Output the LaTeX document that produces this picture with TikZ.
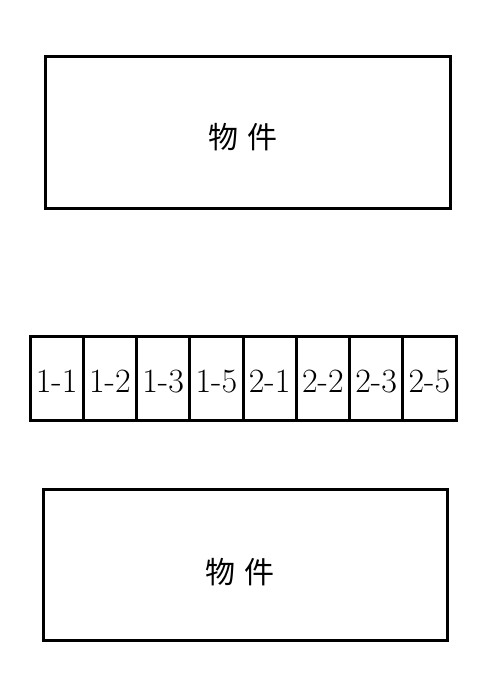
\documentclass[tikz,border=0pt]{standalone}
\usepackage{fontspec}
\newfontfamily\cjk{Noto Sans CJK JP}
\begin{document}
\begin{tikzpicture}[x=1bp,y=-1bp,
  bigbox/.style={draw=black,line width=3bp,rectangle,inner sep=0pt},
  cell/.style={draw=black,line width=3bp,rectangle,inner sep=0pt,
    minimum width=53.25bp,minimum height=84bp,
    font=\fontsize{34bp}{36bp}\selectfont,text height=29bp,text depth=0pt},
  cjklabel/.style={font=\cjk\fontsize{30bp}{34bp}\selectfont,inner sep=0pt}]
\useasboundingbox (0,0) rectangle (500,700);
\fill[white] (0,0) rectangle (500,700);
% top box
\node[bigbox,minimum width=404bp,minimum height=151bp] (top) at (248,132.5) {};
\node[cjklabel] (toptext) at (243,137) {物\hspace{9bp}件};
% cells
\foreach \t [count=\i] in {1-1,1-2,1-3,1-5,2-1,2-2,2-3,2-5}{
  \node[cell] (c\i) at ({30+53.25*(\i-0.5)},378) {\t};
}
% bottom box
\node[bigbox,minimum width=403bp,minimum height=151bp] (bot) at (245.5,564.5) {};
\node[cjklabel] (bottext) at (240,572) {物\hspace{9bp}件};
\end{tikzpicture}
\end{document}
